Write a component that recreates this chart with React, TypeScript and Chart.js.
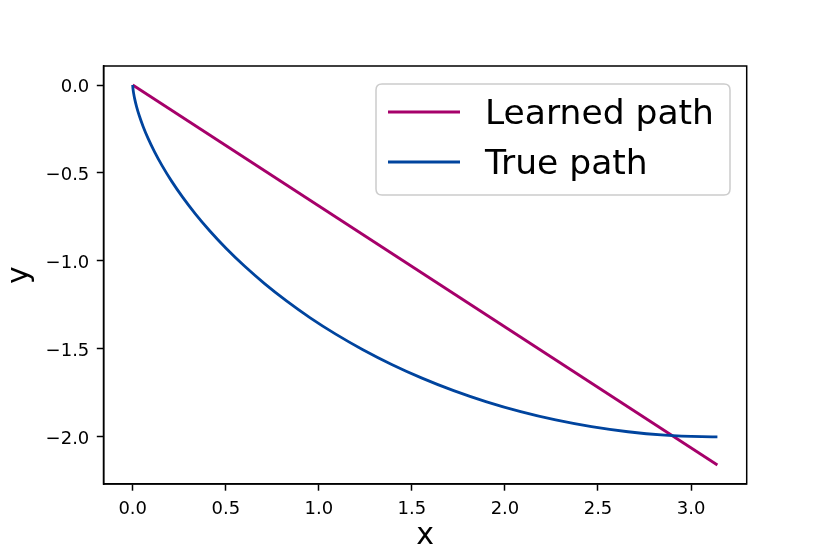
import React, { useEffect, useRef } from "react";
import { Chart, registerables } from "chart.js";

Chart.register(...registerables);

// True path
const trueX = [0, 0.0002, 0.0013, 0.0045, 0.0106, 0.0206, 0.0354, 0.0558, 0.0826, 0.1167, 0.1585, 0.2088, 0.268, 0.3364, 0.4145, 0.5025, 0.6004, 0.7083, 0.8262, 0.9537, 1.0907, 1.2368, 1.3915, 1.5543, 1.7245, 1.9015, 2.0845, 2.2726, 2.465, 2.6608, 2.8589, 3.0584, 3.1416];
const trueY = [0, -0.005, -0.0199, -0.0447, -0.0789, -0.1224, -0.1747, -0.2352, -0.3033, -0.3784, -0.4597, -0.5464, -0.6376, -0.7325, -0.83, -0.9293, -1.0292, -1.1288, -1.2272, -1.3233, -1.4161, -1.5048, -1.5885, -1.6663, -1.7374, -1.8011, -1.8569, -1.9041, -1.9422, -1.971, -1.99, -1.9991, -2.0];

// Learned path
const learnedX = [0, 3.1416];
const learnedY = [0, -2.16];

const xTicks = [0, 0.5, 1.0, 1.5, 2.0, 2.5, 3.0];
const yTicks = [0, -0.5, -1.0, -1.5, -2.0];

const seriesLabels = ["Learned path", "True path"];
const seriesColors = ["#A6006A", "#00449E"];

const fmt = (v: number) => (v < 0 ? "\u2212" + Math.abs(v).toFixed(1) : v.toFixed(1));

const FONT = "'DejaVu Sans', sans-serif";

const framePlugin = {
  id: "frame",
  afterDatasetsDraw(chart: any) {
    const { ctx, chartArea } = chart;
    const { left, right, top, bottom } = chartArea;
    ctx.save();
    ctx.strokeStyle = "#000";
    ctx.lineWidth = 1.5;
    ctx.strokeRect(left, top, right - left, bottom - top);
    ctx.restore();
  },
};

const legendPlugin = {
  id: "mplLegend",
  afterDraw(chart: any) {
    const { ctx } = chart;
    const bx = 376, by = 84, bw = 354, bh = 111, r = 6;
    ctx.save();
    ctx.beginPath();
    ctx.moveTo(bx + r, by);
    ctx.lineTo(bx + bw - r, by);
    ctx.quadraticCurveTo(bx + bw, by, bx + bw, by + r);
    ctx.lineTo(bx + bw, by + bh - r);
    ctx.quadraticCurveTo(bx + bw, by + bh, bx + bw - r, by + bh);
    ctx.lineTo(bx + r, by + bh);
    ctx.quadraticCurveTo(bx, by + bh, bx, by + bh - r);
    ctx.lineTo(bx, by + r);
    ctx.quadraticCurveTo(bx, by, bx + r, by);
    ctx.closePath();
    ctx.fillStyle = "rgba(255,255,255,0.8)";
    ctx.fill();
    ctx.strokeStyle = "#cccccc";
    ctx.lineWidth = 1.5;
    ctx.stroke();
    const rows = [112, 162];
    const baselines = [124.3, 174];
    chart.data.datasets.forEach((ds: any, i: number) => {
      ctx.beginPath();
      ctx.strokeStyle = ds.borderColor;
      ctx.lineWidth = 2.8;
      ctx.moveTo(388, rows[i]);
      ctx.lineTo(460, rows[i]);
      ctx.stroke();
      ctx.fillStyle = "#000";
      ctx.font = `34.5px ${FONT}`;
      ctx.textBaseline = "alphabetic";
      ctx.textAlign = "left";
      ctx.fillText(ds.label, 485, baselines[i]);
    });
    ctx.restore();
  },
};

export default function App() {
  const ref = useRef<HTMLCanvasElement | null>(null);
  useEffect(() => {
    if (!ref.current) return;
    const chart = new Chart(ref.current, {
      type: "line",
      data: {
        datasets: [
          {
            label: seriesLabels[0],
            data: learnedX.map((x, i) => ({ x, y: learnedY[i] })),
            borderColor: seriesColors[0],
            borderWidth: 2.8,
            pointRadius: 0,
            tension: 0,
            fill: false,
            order: 1,
          },
          {
            label: seriesLabels[1],
            data: trueX.map((x, i) => ({ x, y: trueY[i] })),
            borderColor: seriesColors[1],
            borderWidth: 2.8,
            pointRadius: 0,
            cubicInterpolationMode: "monotone",
            fill: false,
            order: 0,
          },
        ],
      },
      options: {
        responsive: false,
        animation: false,
        layout: { padding: { top: 66, right: 83.3, left: 0, bottom: 0 } },
        plugins: {
          legend: { display: false },
          tooltip: { enabled: false },
        },
        scales: {
          x: {
            type: "linear",
            min: -0.157,
            max: 3.299,
            afterBuildTicks: (s: any) => {
              s.ticks = xTicks.map((v) => ({ value: v }));
            },
            afterFit: (s: any) => {
              s.height = 70;
            },
            grid: {
              display: true,
              drawOnChartArea: false,
              drawTicks: true,
              tickLength: 6.7,
              tickWidth: 1.5,
              tickColor: "#000",
            },
            border: { display: true, color: "#000", width: 1.5 },
            ticks: {
              color: "#000",
              font: { family: FONT, size: 18 },
              padding: 8,
              maxRotation: 0,
              callback: (v: any) => fmt(Number(v)),
            },
            title: {
              display: true,
              text: "x",
              color: "#000",
              font: { family: FONT, size: 30 },
              padding: { top: 0, bottom: 0 },
            },
          },
          y: {
            type: "linear",
            min: -2.268,
            max: 0.108,
            afterBuildTicks: (s: any) => {
              s.ticks = yTicks.map((v) => ({ value: v }));
            },
            afterFit: (s: any) => {
              s.width = 103.5;
            },
            grid: {
              display: true,
              drawOnChartArea: false,
              drawTicks: true,
              tickLength: 6.7,
              tickWidth: 1.5,
              tickColor: "#000",
            },
            border: { display: true, color: "#000", width: 1.5 },
            ticks: {
              color: "#000",
              font: { family: FONT, size: 18 },
              padding: 7.5,
              labelOffset: 2,
              callback: (v: any) => fmt(Number(v)),
            },
            title: {
              display: true,
              text: "y",
              color: "#000",
              font: { family: FONT, size: 30 },
              padding: { top: 2, bottom: 0 },
            },
          },
        },
      },
      plugins: [framePlugin, legendPlugin],
    });
    return () => chart.destroy();
  }, []);
  return (
    <div style={{ position: "absolute", left: 0, top: 0, width: 830, height: 554, background: "#fff" }}>
      <canvas ref={ref} width={830} height={554} style={{ display: "block" }} />
    </div>
  );
}
